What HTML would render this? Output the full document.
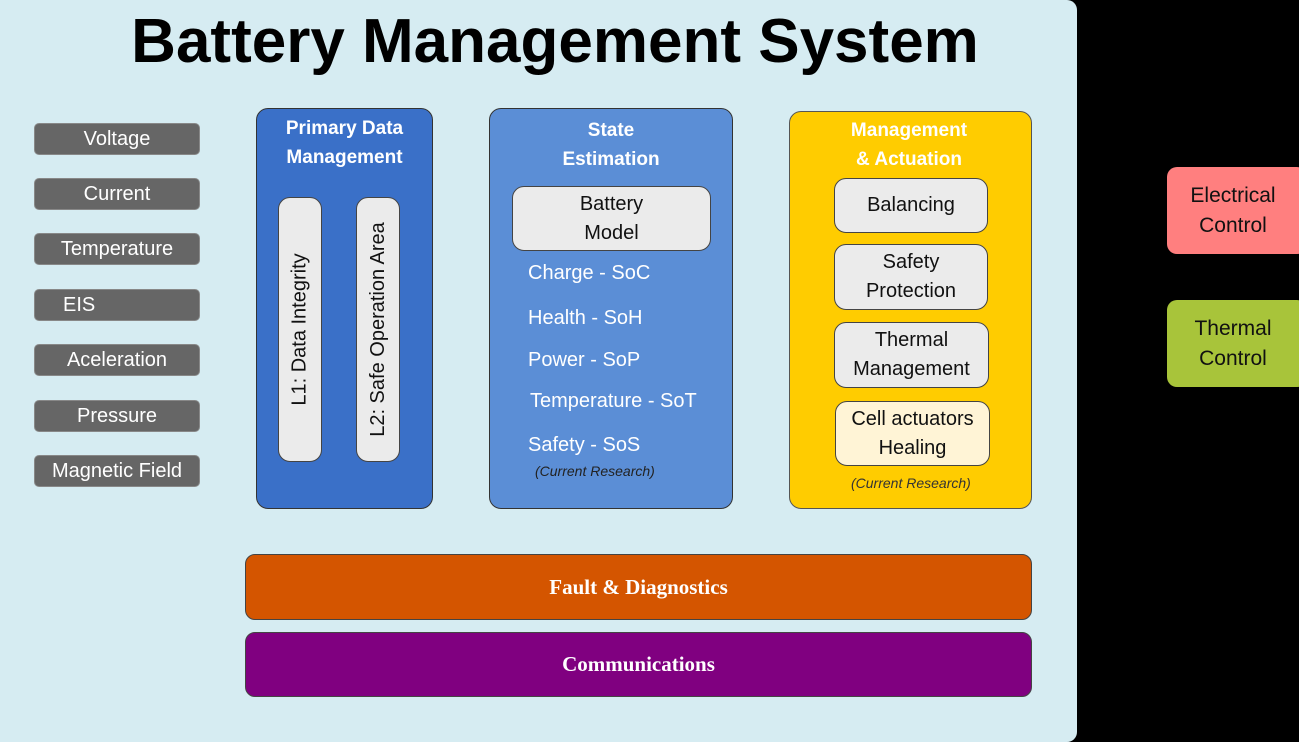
<!DOCTYPE html>
<html><head><style>
body{margin:0;width:1299px;height:742px;background:#000;position:relative;overflow:hidden;font-family:"Liberation Sans","DejaVu Sans",sans-serif}
.a{position:absolute;box-sizing:border-box}
.c{display:flex;align-items:center;justify-content:center;text-align:center}
.s{background:#666;color:#fff;border-radius:5px;font-size:20px;left:34px;width:166px;height:32px;border:1px solid #888}
.w{background:#ebebeb;border:1.5px solid #444;border-radius:12px;color:#111;font-size:20px;line-height:29px}
.t{color:#fff;font-weight:bold;font-size:19px;line-height:29px}
.e{color:#fff;font-size:20px;left:528px}
</style></head><body>
<div class="a" style="left:0;top:0;width:1077px;height:742px;background:#d6ecf2;border-radius:0 10px 10px 0"></div>
<div class="a c" style="left:0;top:2px;width:1110px;height:78px;font-size:62px;font-weight:bold;color:#000">Battery Management System</div>

<div class="a c s" style="top:123px">Voltage</div>
<div class="a c s" style="top:178px">Current</div>
<div class="a c s" style="top:233px">Temperature</div>
<div class="a s" style="top:289px;padding:4px 0 0 28px">EIS</div>
<div class="a c s" style="top:344px">Aceleration</div>
<div class="a c s" style="top:400px">Pressure</div>
<div class="a c s" style="top:455px">Magnetic Field</div>

<div class="a" style="left:256px;top:108px;width:177px;height:401px;background:#3a70c8;border:1.5px solid #333;border-radius:12px"></div>
<div class="a t" style="left:256px;top:114px;width:177px;text-align:center">Primary Data<br>Management</div>
<div class="a w c" style="left:278px;top:197px;width:44px;height:265px"><span style="transform:rotate(-90deg);white-space:nowrap">L1: Data Integrity</span></div>
<div class="a w c" style="left:356px;top:197px;width:44px;height:265px"><span style="transform:rotate(-90deg);white-space:nowrap">L2: Safe Operation Area</span></div>

<div class="a" style="left:489px;top:108px;width:244px;height:401px;background:#5b8ed6;border:1.5px solid #333;border-radius:12px"></div>
<div class="a t" style="left:489px;top:116px;width:244px;text-align:center">State<br>Estimation</div>
<div class="a w c" style="left:512px;top:186px;width:199px;height:65px">Battery<br>Model</div>
<div class="a e" style="top:262px">Charge - SoC</div>
<div class="a e" style="top:307px">Health - SoH</div>
<div class="a e" style="top:349px">Power - SoP</div>
<div class="a e" style="top:390px;left:530px">Temperature - SoT</div>
<div class="a e" style="top:434px">Safety - SoS</div>
<div class="a" style="left:535px;top:463px;font-size:14px;font-style:italic;color:#222">(Current Research)</div>

<div class="a" style="left:789px;top:111px;width:243px;height:398px;background:#ffcc00;border:1.5px solid #555;border-radius:12px"></div>
<div class="a t" style="left:789px;top:116px;width:240px;text-align:center">Management<br>&amp; Actuation</div>
<div class="a w c" style="left:834px;top:178px;width:154px;height:55px">Balancing</div>
<div class="a w c" style="left:834px;top:244px;width:154px;height:66px">Safety<br>Protection</div>
<div class="a w c" style="left:834px;top:322px;width:155px;height:66px">Thermal<br>Management</div>
<div class="a w c" style="left:835px;top:401px;width:155px;height:65px;background:#fff4d6">Cell actuators<br>Healing</div>
<div class="a" style="left:851px;top:475px;font-size:14px;font-style:italic;color:#333">(Current Research)</div>

<div class="a c" style="left:245px;top:554px;width:787px;height:66px;background:#d45500;border:1.5px solid #444;border-radius:10px;color:#fff;font-weight:bold;font-size:21px;font-family:'Liberation Serif',serif">Fault &amp; Diagnostics</div>
<div class="a c" style="left:245px;top:632px;width:787px;height:65px;background:#800080;border:1.5px solid #444;border-radius:10px;color:#fff;font-weight:bold;font-size:21px;font-family:'Liberation Serif',serif">Communications</div>

<div class="a c" style="left:1167px;top:167px;width:140px;height:87px;background:#ff7f7f;border-radius:10px;font-size:21px;line-height:30px;color:#111;padding-right:8px">Electrical<br>Control</div>
<div class="a c" style="left:1167px;top:300px;width:140px;height:87px;background:#a8c43a;border-radius:10px;font-size:21px;line-height:30px;color:#111;padding-right:8px">Thermal<br>Control</div>
</body></html>
